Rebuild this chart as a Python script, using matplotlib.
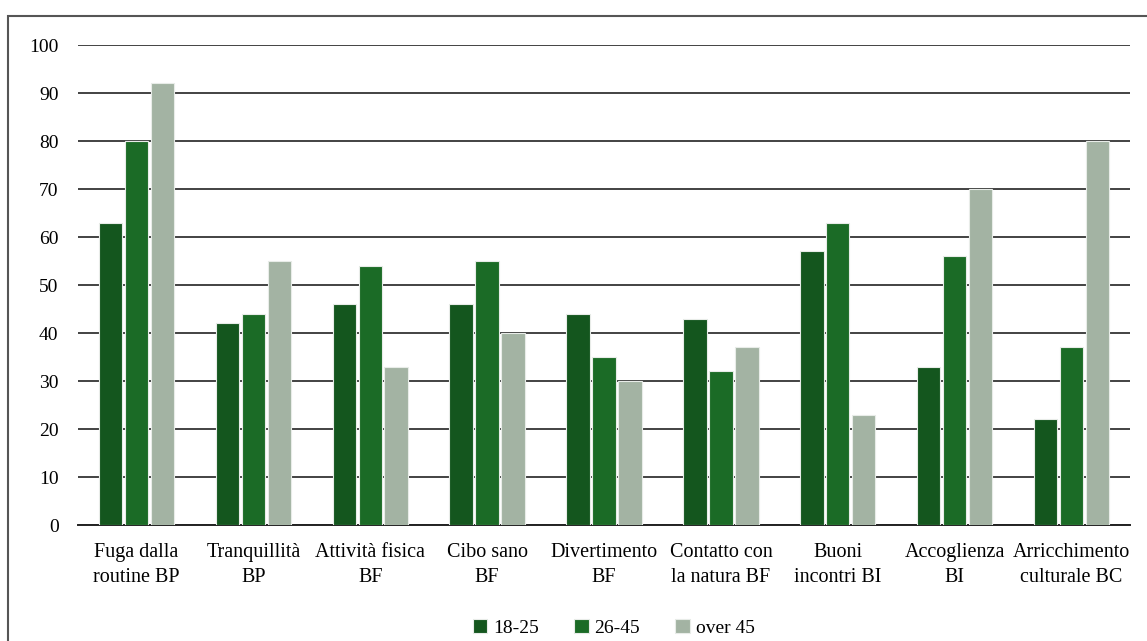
import numpy as np
import matplotlib.pyplot as plt
from matplotlib.patches import Rectangle

plt.rcParams['font.family'] = ['Liberation Serif', 'DejaVu Serif']

categories = [
    "Fuga dalla\nroutine BP", "Tranquillità\nBP", "Attività fisica\nBF",
    "Cibo sano\nBF", "Divertimento\nBF", "Contatto con\nla natura BF",
    "Buoni\nincontri BI", "Accoglienza\nBI", "Arricchimento\nculturale BC",
]
series_names = ["18-25", "26-45", "over 45"]
v_18_25 = [63, 42, 46, 46, 44, 43, 57, 33, 22]
v_26_45 = [80, 44, 54, 55, 35, 32, 63, 56, 37]
v_over45 = [92, 55, 33, 40, 30, 37, 23, 70, 80]
colors = ["#14561e", "#1b6b26", "#a3b3a3"]

fig = plt.figure(figsize=(11.47, 6.41), dpi=100)
ax = fig.add_axes([78 / 1147, 1 - 525 / 641, 1052 / 1147, 480 / 641])

# cornice attorno al grafico
fig.patches.append(Rectangle((8 / 1147, -0.1), 1.2, 1 - 16 / 641 + 0.1,
                             transform=fig.transFigure, fill=False,
                             edgecolor="#555555", linewidth=1.5))

x = np.arange(len(categories))
step = 0.222
width = 0.2
for i, vals in enumerate([v_18_25, v_26_45, v_over45]):
    ax.bar(x + (i - 1) * step, vals, width, color=colors[i],
           edgecolor="#e8ece8", linewidth=0.8, label=series_names[i], zorder=3)

ax.set_xlim(-0.5, len(categories) - 0.5)
ax.set_ylim(0, 100)
ax.set_yticks(range(0, 101, 10))
ax.yaxis.grid(True, color="#222222", linewidth=1.2, zorder=0)
ax.set_axisbelow(True)
for s in ["left", "right", "top"]:
    ax.spines[s].set_visible(False)
ax.spines["bottom"].set_color("#222222")
ax.spines["bottom"].set_linewidth(1.4)
ax.tick_params(axis="both", length=0, labelsize=14)
ax.tick_params(axis="y", pad=14)
ax.tick_params(axis="x", pad=13, labelsize=14.5)
ax.set_xticks(x)
ax.set_xticklabels(categories, linespacing=1.45)

fig.legend(loc="center", bbox_to_anchor=(0.535, 1 - 628 / 641), ncol=3,
           frameon=False, fontsize=14, handlelength=0.75, handleheight=0.75,
           columnspacing=1.8, handletextpad=0.3)

fig.savefig("out.png", dpi=100)
